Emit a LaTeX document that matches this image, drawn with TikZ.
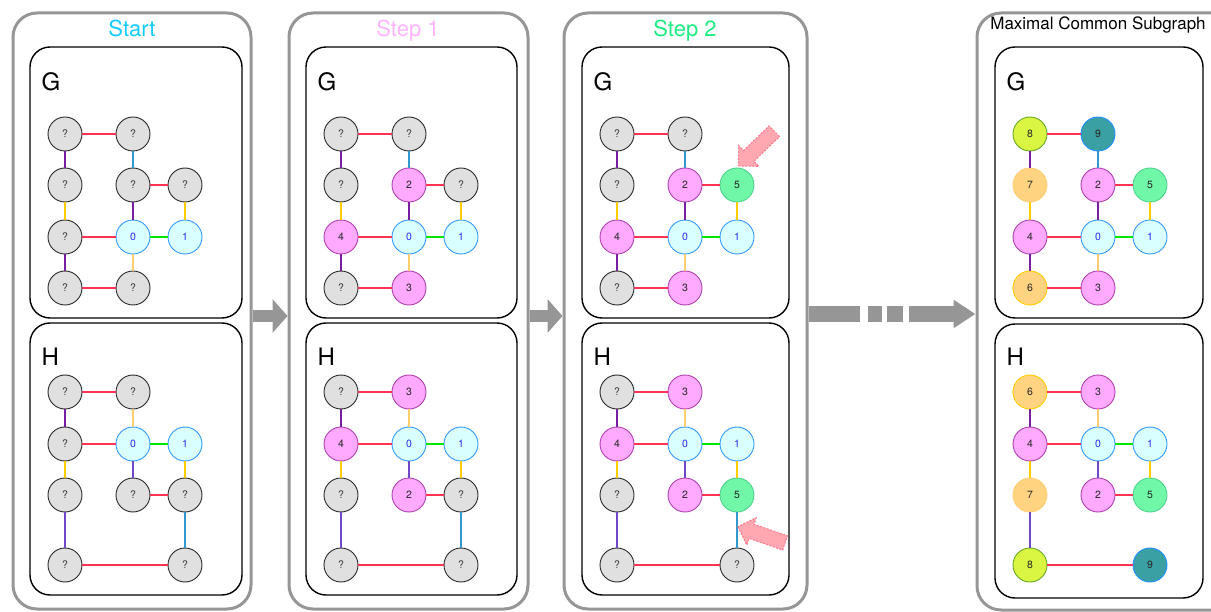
\documentclass[tikz,border=0pt]{standalone}
\usepackage{fontspec}
\setmainfont{TeX Gyre Heros}
\usetikzlibrary{arrows.meta,shapes.arrows}

% palette
\definecolor{panelgray}{RGB}{150,150,150}
\definecolor{arrowgray}{RGB}{150,150,150}
\definecolor{edgered}{RGB}{255,51,85}
\definecolor{edgepurple}{RGB}{120,30,160}
\definecolor{edgeviolet}{RGB}{112,72,200}
\definecolor{edgeblue}{RGB}{51,153,204}
\definecolor{edgeyellow}{RGB}{255,204,0}
\definecolor{edgeorange}{RGB}{255,204,110}
\definecolor{edgegreen}{RGB}{0,230,0}
\definecolor{unkfill}{RGB}{224,224,224}
\definecolor{unkdraw}{RGB}{40,40,40}
\definecolor{unktext}{RGB}{60,60,60}
\definecolor{cyanfill}{RGB}{218,255,255}
\definecolor{cyandraw}{RGB}{51,153,255}
\definecolor{cyantext}{RGB}{40,40,255}
\definecolor{pinkfill}{RGB}{255,170,255}
\definecolor{pinkdraw}{RGB}{176,64,176}
\definecolor{greenfill}{RGB}{112,248,168}
\definecolor{greendraw}{RGB}{80,210,140}
\definecolor{limefill}{RGB}{218,245,66}
\definecolor{limedraw}{RGB}{102,170,34}
\definecolor{tealfill}{RGB}{59,160,163}
\definecolor{tealdraw}{RGB}{30,144,255}
\definecolor{orangefill}{RGB}{255,211,127}
\definecolor{orangedraw}{RGB}{255,208,120}
\definecolor{yellowdraw}{RGB}{255,204,0}
\definecolor{darktext}{RGB}{40,40,40}
\definecolor{titlecyan}{RGB}{20,205,255}
\definecolor{titlepink}{RGB}{255,180,255}
\definecolor{titlegreen}{RGB}{30,235,130}
\definecolor{hintfill}{RGB}{255,168,178}
\definecolor{hintdraw}{RGB}{255,120,140}

\tikzset{
  panel/.style={rectangle, draw=panelgray, line width=3pt, rounded corners=24pt, inner sep=0pt},
  gbox/.style={rectangle, draw=black, line width=1.4pt, rounded corners=20pt, inner sep=0pt, minimum height=271pt},
  vtx/.style={circle, minimum size=34pt, inner sep=0pt, line width=0.9pt, font=\fontsize{10.5}{11}\selectfont},
  unk/.style={vtx, fill=unkfill, draw=unkdraw, text=unktext},
  cyn/.style={vtx, fill=cyanfill, draw=cyandraw, text=cyantext},
  pnk/.style={vtx, fill=pinkfill, draw=pinkdraw, text=darktext},
  grn/.style={vtx, fill=greenfill, draw=greendraw, text=darktext},
  lim/.style={vtx, fill=limefill, draw=limedraw, text=darktext},
  tea/.style={vtx, fill=tealfill, draw=tealdraw, text=darktext},
  org/.style={vtx, fill=orangefill, draw=orangedraw, text=darktext},
  ylw/.style={vtx, fill=orangefill, draw=yellowdraw, text=darktext},
  edge/.style={line width=2.8pt},
  edgeR/.style={edge, draw=edgered},
  edgeP/.style={edge, draw=edgepurple},
  edgeV/.style={edge, draw=edgeviolet},
  edgeB/.style={edge, draw=edgeblue},
  edgeY/.style={edge, draw=edgeyellow},
  edgeO/.style={edge, draw=edgeorange},
  edgeG/.style={edge, draw=edgegreen},
  title/.style={anchor=base, font=\fontsize{22}{24}\selectfont},
  glabel/.style={anchor=base west, font=\fontsize{24}{26}\selectfont},
  stepbar/.style={draw=arrowgray, line width=12pt, line cap=butt, -{Triangle[length=15pt,width=33pt]}},
  longbar/.style={draw=arrowgray, line width=16pt, line cap=butt,
    dash pattern=on 51pt off 8pt on 14pt off 5pt on 16pt off 6pt on 400pt off 0pt,
    -{Triangle[length=22pt,width=27pt]}},
  hint/.style={single arrow, draw=hintdraw, fill=hintfill, line width=1pt,
    dash pattern=on 2pt off 1.5pt, minimum height=50pt, minimum width=28pt,
    inner sep=7pt, single arrow head extend=7pt},
}

% graph G: #1 prefix, #2 horizontal shift, #3 list name/style/label
\newcommand\graphG[3]{%
  \begin{scope}[xshift=#2]
    \coordinate (#1@a) at (65,134);
    \coordinate (#1@b) at (133,134);
    \coordinate (#1@c) at (65,185);
    \coordinate (#1@d) at (133,185);
    \coordinate (#1@e) at (185,185);
    \coordinate (#1@f) at (65,237);
    \coordinate (#1@g) at (133,237);
    \coordinate (#1@h) at (185,237);
    \coordinate (#1@i) at (65,288);
    \coordinate (#1@j) at (133,288);
  \end{scope}
  \foreach \n/\s/\t in {#3}{\edef\tmp{\noexpand\node[\s] (#1\n) at (#1@\n) {\t};}\tmp}
  \draw[edgeR] (#1a) -- (#1b);
  \draw[edgeP] (#1a) -- (#1c);
  \draw[edgeB] (#1b) -- (#1d);
  \draw[edgeR] (#1d) -- (#1e);
  \draw[edgeY] (#1c) -- (#1f);
  \draw[edgeP] (#1d) -- (#1g);
  \draw[edgeY] (#1e) -- (#1h);
  \draw[edgeR] (#1f) -- (#1g);
  \draw[edgeG] (#1g) -- (#1h);
  \draw[edgeP] (#1f) -- (#1i);
  \draw[edgeO] (#1g) -- (#1j);
  \draw[edgeR] (#1i) -- (#1j);
}

% graph H: #1 prefix, #2 horizontal shift, #3 list name/style/label
\newcommand\graphH[3]{%
  \begin{scope}[xshift=#2]
    \coordinate (#1@a) at (65,392);
    \coordinate (#1@b) at (133,392);
    \coordinate (#1@c) at (65,444);
    \coordinate (#1@d) at (133,444);
    \coordinate (#1@e) at (185,444);
    \coordinate (#1@f) at (65,495);
    \coordinate (#1@g) at (133,495);
    \coordinate (#1@h) at (185,495);
    \coordinate (#1@i) at (65,565);
    \coordinate (#1@k) at (185,565);
  \end{scope}
  \foreach \n/\s/\t in {#3}{\edef\tmp{\noexpand\node[\s] (#1\n) at (#1@\n) {\t};}\tmp}
  \draw[edgeR] (#1a) -- (#1b);
  \draw[edgeP] (#1a) -- (#1c);
  \draw[edgeO] (#1b) -- (#1d);
  \draw[edgeR] (#1c) -- (#1d);
  \draw[edgeG] (#1d) -- (#1e);
  \draw[edgeY] (#1c) -- (#1f);
  \draw[edgeV] (#1d) -- (#1g);
  \draw[edgeY] (#1e) -- (#1h);
  \draw[edgeR] (#1g) -- (#1h);
  \draw[edgeV] (#1f) -- (#1i);
  \draw[edgeR] (#1i) -- (#1k);
}

\begin{document}
\begin{tikzpicture}[x=1pt, y=-1pt]
\useasboundingbox (0,0) rectangle (1211,612);
\clip (0,0) rectangle (1211,612);

% outer stage panels
\node[panel, minimum width=238pt, minimum height=596pt] (P0) at (132,311) {};
\node[panel, minimum width=239pt, minimum height=596pt] (P1) at (408.5,311) {};
\node[panel, minimum width=243pt, minimum height=596pt] (P2) at (685.5,311) {};
\node[panel, minimum width=263pt, minimum height=597pt] (P3) at (1108.5,311.5) {};

% stage titles
\node[title, text=titlecyan] (tStart) at (132,37) {Start};
\node[title, text=titlepink] (tStep1) at (408,37) {Step 1};
\node[title, text=titlegreen] (tStep2) at (685,37) {Step 2};
\node[anchor=base, font=\fontsize{17}{19}\selectfont] (tMCS) at (1098,30) {Maximal Common Subgraph};

% graph boxes
\node[gbox, minimum width=212pt] (B0G) at (136,182.5) {};
\node[gbox, minimum width=212pt, minimum height=272pt] (B0H) at (136,459) {};
\node[gbox, minimum width=211pt] (B1G) at (411.5,182.5) {};
\node[gbox, minimum width=211pt, minimum height=272pt] (B1H) at (411.5,459) {};
\node[gbox, minimum width=207pt] (B2G) at (685.5,182.5) {};
\node[gbox, minimum width=207pt, minimum height=272pt] (B2H) at (685.5,459) {};
\node[gbox, minimum width=208pt] (B3G) at (1099,182.5) {};
\node[gbox, minimum width=208pt, minimum height=274pt] (B3H) at (1099,461) {};

% box letters
\node[glabel] (L0G) at (38,91) {G};
\node[glabel] (L0H) at (38,366) {H};
\node[glabel] (L1G) at (314,91) {G};
\node[glabel] (L1H) at (314,366) {H};
\node[glabel] (L2G) at (590,91) {G};
\node[glabel] (L2H) at (590,366) {H};
\node[glabel] (L3G) at (1003,91) {G};
\node[glabel] (L3H) at (1003,366) {H};

% Start
\graphG{SG}{0pt}{a/unk/?, b/unk/?, c/unk/?, d/unk/?, e/unk/?, f/unk/?, g/cyn/0, h/cyn/1, i/unk/?, j/unk/?}
\graphH{SH}{0pt}{a/unk/?, b/unk/?, c/unk/?, d/cyn/0, e/cyn/1, f/unk/?, g/unk/?, h/unk/?, i/unk/?, k/unk/?}
\draw[edgeB] (SHh) -- (SHk);

% Step 1
\graphG{AG}{276pt}{a/unk/?, b/unk/?, c/unk/?, d/pnk/2, e/unk/?, f/pnk/4, g/cyn/0, h/cyn/1, i/unk/?, j/pnk/3}
\graphH{AH}{276pt}{a/unk/?, b/pnk/3, c/pnk/4, d/cyn/0, e/cyn/1, f/unk/?, g/pnk/2, h/unk/?, i/unk/?, k/unk/?}
\draw[edgeB] (AHh) -- (AHk);

% Step 2
\graphG{BG}{552pt}{a/unk/?, b/unk/?, c/unk/?, d/pnk/2, e/grn/5, f/pnk/4, g/cyn/0, h/cyn/1, i/unk/?, j/pnk/3}
\graphH{BH}{552pt}{a/unk/?, b/pnk/3, c/pnk/4, d/cyn/0, e/cyn/1, f/unk/?, g/pnk/2, h/grn/5, i/unk/?, k/unk/?}
\draw[edgeB] (BHh) -- (BHk);

% result
\graphG{MG}{965pt}{a/lim/8, b/tea/9, c/org/7, d/pnk/2, e/grn/5, f/pnk/4, g/cyn/0, h/cyn/1, i/ylw/6, j/pnk/3}
\graphH{MH}{965pt}{a/ylw/6, b/pnk/3, c/pnk/4, d/cyn/0, e/cyn/1, f/org/7, g/pnk/2, h/grn/5, i/lim/8, k/tea/9}

% newly matched pair markers
\node[hint, rotate=224] (hintG) at (759,146) {};
\node[hint, rotate=161] (hintH) at (765,536) {};

% stage transitions
\coordinate (rowA) at (0,316);
\coordinate (rowB) at (0,314);
\draw[stepbar] (P0.east |- rowA) -- (P1.west |- rowA);
\draw[stepbar] (P1.east |- rowA) -- (P2.west |- rowA);
\draw[longbar] (P2.east |- rowB) -- (P3.west |- rowB);
\end{tikzpicture}
\end{document}
